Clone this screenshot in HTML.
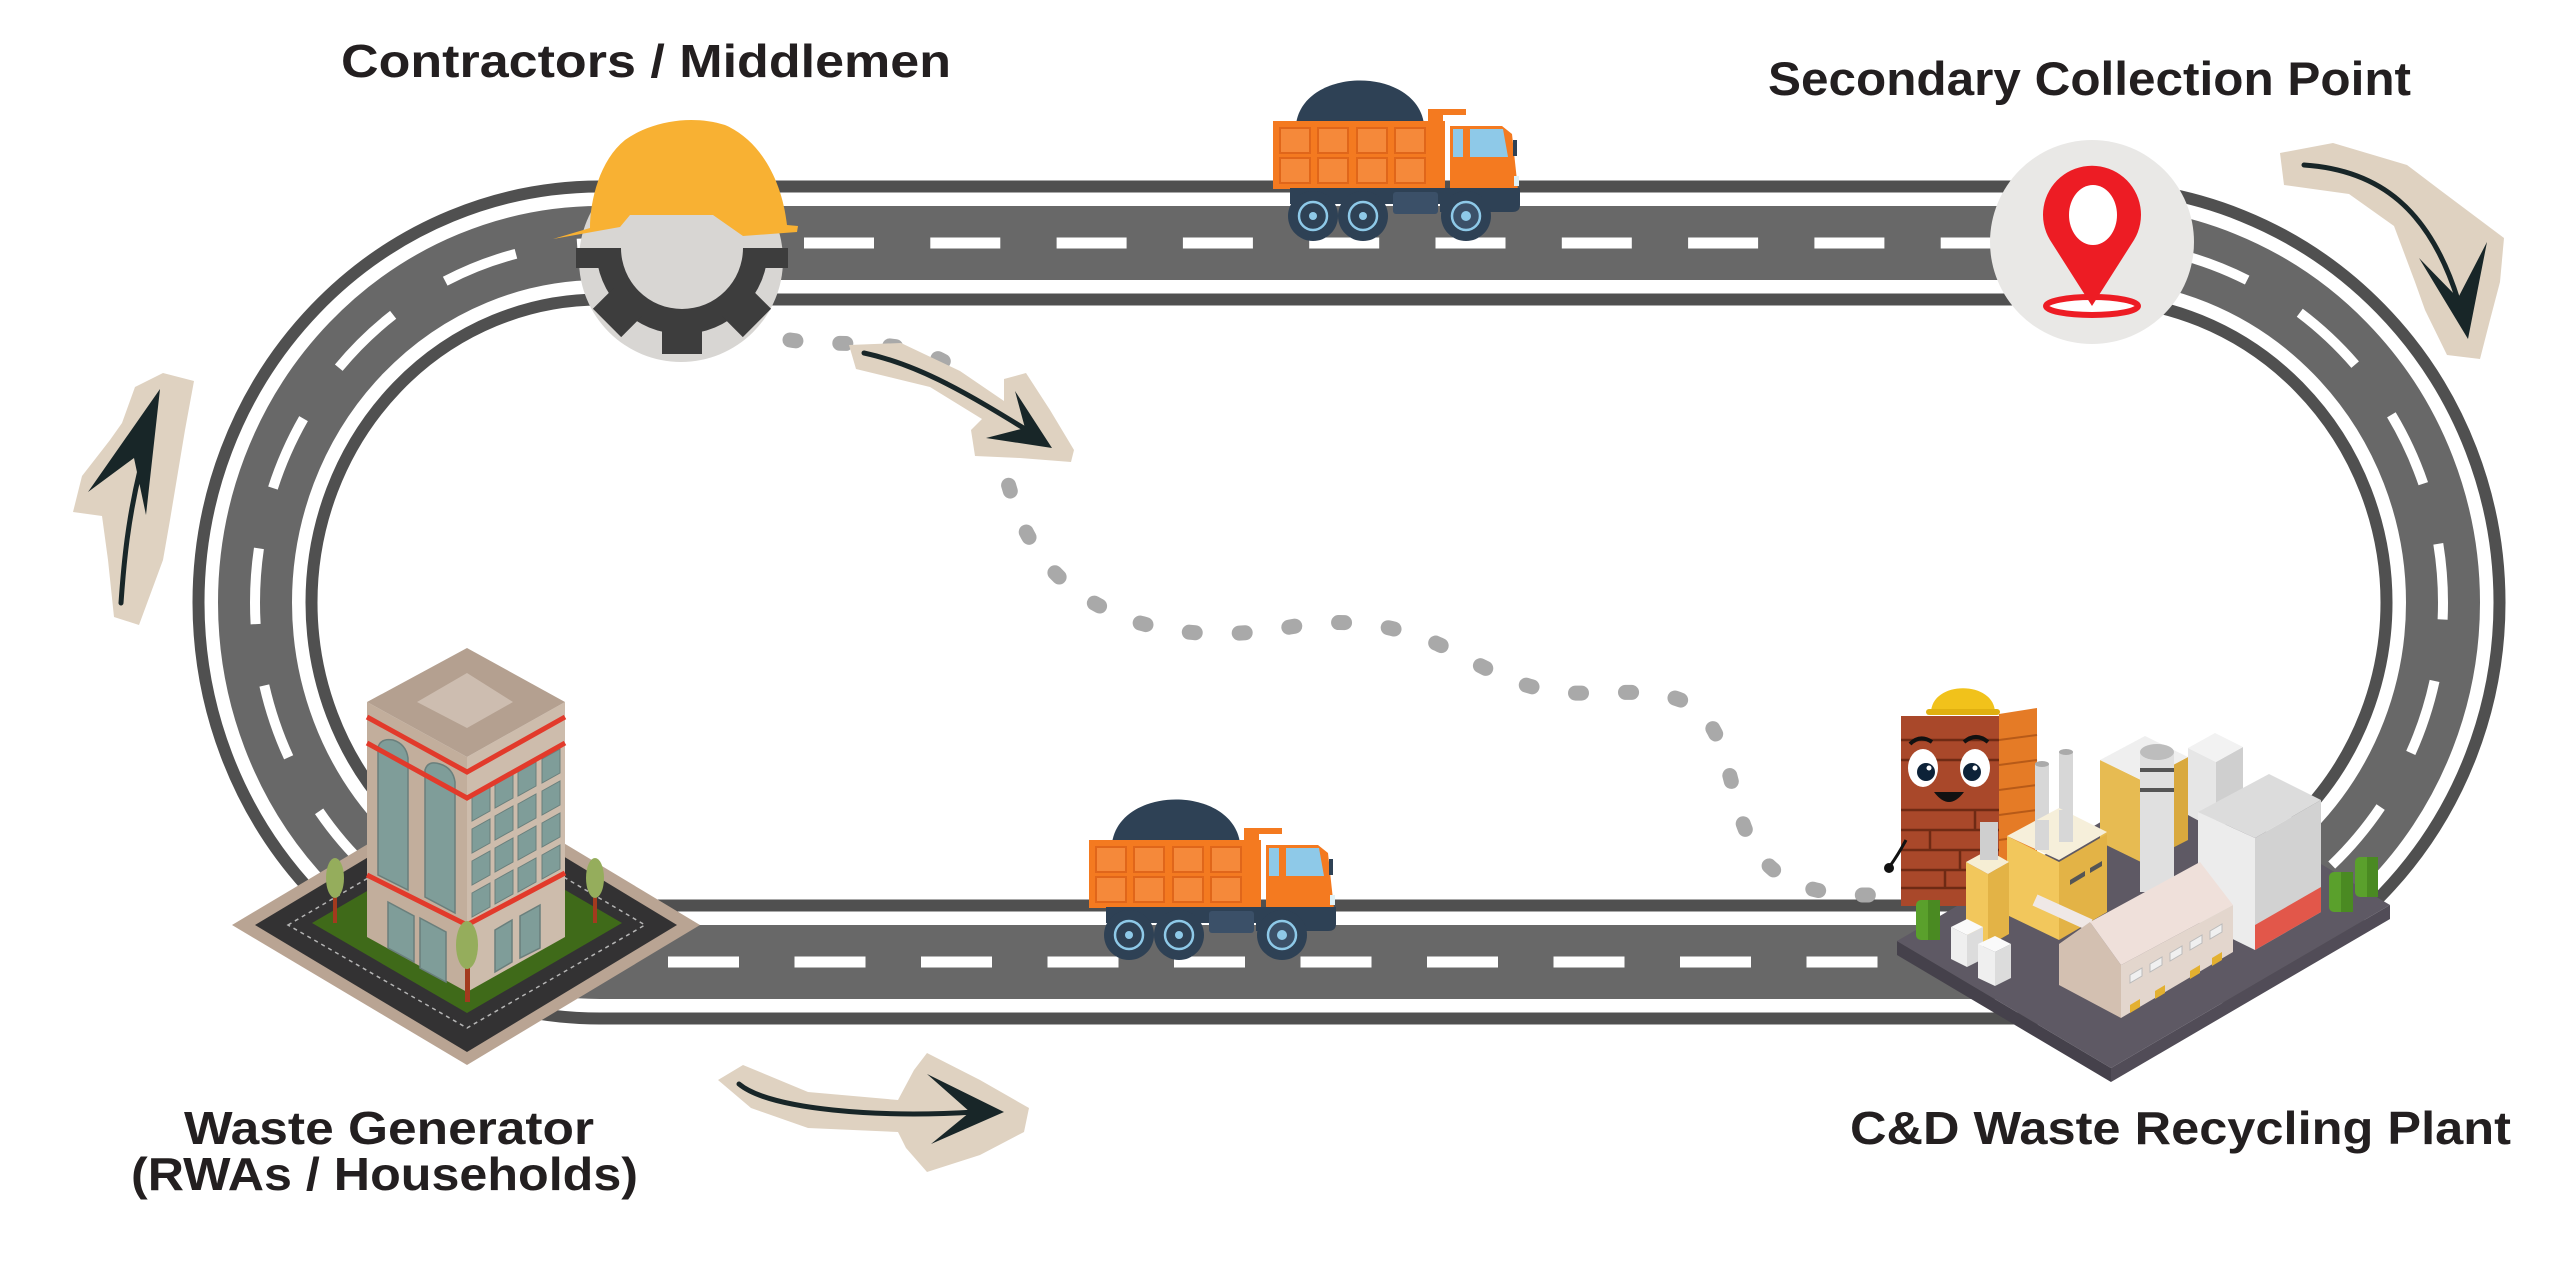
<!DOCTYPE html>
<html><head><meta charset="utf-8"><style>
html,body{margin:0;padding:0;background:#fff;}
svg{display:block;}
text{font-family:"Liberation Sans",Arial,sans-serif;font-weight:700;fill:#231f20;}
</style></head><body>
<svg width="2560" height="1264" viewBox="0 0 2560 1264" xmlns="http://www.w3.org/2000/svg">
<rect width="2560" height="1264" fill="#fff"/>

<!-- ROAD -->
<path d="M600,243 L2092,243 A351,359.5 0 0 1 2092,962 L600,962 A345,359.5 0 0 1 600,243 Z" fill="none" stroke="#505050" stroke-width="125"/>
<path d="M600,243 L2092,243 A351,359.5 0 0 1 2092,962 L600,962 A345,359.5 0 0 1 600,243 Z" fill="none" stroke="#ffffff" stroke-width="101"/>
<path d="M600,243 L2092,243 A351,359.5 0 0 1 2092,962 L600,962 A345,359.5 0 0 1 600,243 Z" fill="none" stroke="#686868" stroke-width="74"/>
<line x1="804" y1="243" x2="2010" y2="243" stroke="#fff" stroke-width="11" stroke-dasharray="70 56.3"/>
<line x1="668" y1="962" x2="1900" y2="962" stroke="#fff" stroke-width="11" stroke-dasharray="71 55.5"/>
<path d="M600,243 A345,359.5 0 0 0 600,962" fill="none" stroke="#fff" stroke-width="10" stroke-dasharray="76 62" stroke-dashoffset="53"/>
<path d="M2092,243 A351,359.5 0 0 1 2092,962" fill="none" stroke="#fff" stroke-width="10" stroke-dasharray="76 62" stroke-dashoffset="53"/>

<!-- DOTTED ROUTE -->
<path d="M790,340 C840,348 900,335 950,365 C985,390 995,440 1010,490 C1030,560 1070,600 1140,623 C1190,637 1240,636 1290,627 C1340,618 1390,622 1440,645 C1490,670 1520,690 1570,693 C1620,694 1670,685 1700,712 C1730,740 1730,800 1750,840 C1770,880 1810,896 1870,895" fill="none" stroke="#a9a9a9" stroke-width="15" stroke-linecap="round" stroke-dasharray="6 44"/>

<!-- TRUCK -->
<g id="truck">
 <path d="M1296,124 C1304,66 1416,66 1424,124 Z" fill="#2e4155"/>
 <rect x="1273" y="121" width="172" height="68" fill="#f47a20"/>
 <g fill="#f5893a" stroke="#e0661a" stroke-width="2">
  <rect x="1280" y="128" width="30" height="25"/><rect x="1318" y="128" width="30" height="25"/>
  <rect x="1357" y="128" width="30" height="25"/><rect x="1395" y="128" width="30" height="25"/>
  <rect x="1280" y="158" width="30" height="25"/><rect x="1318" y="158" width="30" height="25"/>
  <rect x="1357" y="158" width="30" height="25"/><rect x="1395" y="158" width="30" height="25"/>
 </g>
 <path d="M1428,109 H1466 V115 H1443 V189 H1428 Z" fill="#f47a20"/>
 <path d="M1450,126 H1502 L1512,134 L1518,190 H1450 Z" fill="#f47a20"/>
 <rect x="1453" y="129" width="10" height="28" fill="#8ec9e8"/>
 <path d="M1470,129 H1503 L1508,157 H1470 Z" fill="#8ec9e8"/>
 <rect x="1513" y="140" width="4" height="16" fill="#2e4155"/>
 <rect x="1290" y="188" width="230" height="16" fill="#2e4155"/>
 <rect x="1393" y="192" width="45" height="22" rx="3" fill="#3b5068"/>
 <path d="M1440,190 H1520 V205 Q1520,212 1512,212 H1440 Z" fill="#2e4155"/>
 <rect x="1514" y="176" width="5" height="10" fill="#dff1f7"/>
 <g>
  <circle cx="1313" cy="216" r="25" fill="#2e4155"/><circle cx="1313" cy="216" r="14" fill="none" stroke="#8ec9e8" stroke-width="2.5"/><circle cx="1313" cy="216" r="4" fill="#8ec9e8"/>
  <circle cx="1363" cy="216" r="25" fill="#2e4155"/><circle cx="1363" cy="216" r="14" fill="none" stroke="#8ec9e8" stroke-width="2.5"/><circle cx="1363" cy="216" r="4" fill="#8ec9e8"/>
  <circle cx="1466" cy="216" r="25" fill="#2e4155"/><circle cx="1466" cy="216" r="14" fill="#3b5068" stroke="#8ec9e8" stroke-width="2.5"/><circle cx="1466" cy="216" r="5" fill="#8ec9e8"/>
 </g>
</g>
<use href="#truck" transform="translate(-184,719)"/>

<!-- CONTRACTOR ICON -->
<circle cx="681" cy="260" r="102" fill="#d8d6d3"/>
<g transform="translate(682,248)" fill="#3d3d3d">
 <path d="M-86,0 A86,86 0 0 0 86,0 L61,0 A61,61 0 0 1 -61,0 Z"/>
 <rect x="-20" y="76" width="40" height="30"/>
 <rect x="-20" y="76" width="40" height="30" transform="rotate(45)"/>
 <rect x="-20" y="76" width="40" height="30" transform="rotate(-45)"/>
 <rect x="-106" y="0" width="30" height="20"/>
 <rect x="76" y="0" width="30" height="20"/>
</g>
<path d="M553,239 L590,228 C590,200 600,160 625,140 C650,122 690,114 725,125 C760,140 782,180 787,225 L798,226 L797,232 L743,236 L713,215 L630,215 L620,227 Z" fill="#f8b133"/>

<!-- PIN ICON -->
<circle cx="2092" cy="242" r="102" fill="#e9e8e6"/>
<ellipse cx="2092" cy="306" rx="46" ry="9" fill="#fff" stroke="#ed1c24" stroke-width="6"/>
<path d="M2092,306 L2050,240 A49,49 0 1 1 2134,240 Z" fill="#ed1c24"/>
<ellipse cx="2093" cy="215" rx="24" ry="30" fill="#fff"/>

<!-- WASTE GENERATOR BUILDING -->
<polygon points="232,925 467,785 700,925 467,1065" fill="#b9a493"/>
<polygon points="255,925 467,798 677,925 467,1052" fill="#333233"/>
<polygon points="288,925 467,820 645,925 467,1028" fill="none" stroke="#b5b5b5" stroke-width="1.5" stroke-dasharray="4 4"/>
<polygon points="312,923 467,833 622,923 467,1013" fill="#3f6a19"/>
<polygon points="367,702 467,757 467,992 367,937" fill="#c2ae9c"/>
<polygon points="467,757 565,702 565,937 467,992" fill="#cdbcac"/>
<polygon points="467,648 565,702 467,757 367,702" fill="#b4a090"/>
<polygon points="467,673 513,702 467,728 417,702" fill="#cdbdb0"/>
<g fill="#7f9d99" stroke="#6a7f7c" stroke-width="1.5">
 <path d="M378,748 Q380,738 393,740 Q406,744 408,758 L408,890 L378,875 Z"/>
 <path d="M425,770 Q428,760 440,764 Q453,768 455,782 L455,913 L425,897 Z"/>
 <polygon points="388,902 414,916 414,962 388,948"/>
 <polygon points="420,918 446,932 446,982 420,968"/>
 <polygon points="495,930 512,920 512,962 495,972"/>
 <polygon points="520,916 540,905 540,948 520,958"/>
</g>
<defs><polygon id="win" points="0,0 18,-10 18,14 0,24" fill="#7f9d99" stroke="#6a7f7c" stroke-width="1"/></defs>
<g>
 <use href="#win" x="472" y="797"/><use href="#win" x="472" y="829"/><use href="#win" x="472" y="861"/><use href="#win" x="472" y="893"/>
 <use href="#win" x="495" y="784"/><use href="#win" x="495" y="816"/><use href="#win" x="495" y="848"/><use href="#win" x="495" y="880"/>
 <use href="#win" x="518" y="772"/><use href="#win" x="518" y="804"/><use href="#win" x="518" y="836"/><use href="#win" x="518" y="868"/>
 <use href="#win" x="542" y="759"/><use href="#win" x="542" y="791"/><use href="#win" x="542" y="823"/><use href="#win" x="542" y="855"/>
</g>
<g fill="none" stroke="#e23a2b" stroke-width="5">
 <polyline points="367,717 467,772 565,717"/>
 <polyline points="367,743 467,798 565,743"/>
 <polyline points="367,875 467,925 565,873"/>
</g>
<g>
 <rect x="333" y="895" width="4" height="28" fill="#a33a1e"/><ellipse cx="335" cy="878" rx="9" ry="20" fill="#95ad5c"/>
 <rect x="593" y="895" width="4" height="28" fill="#a33a1e"/><ellipse cx="595" cy="878" rx="9" ry="20" fill="#95ad5c"/>
 <rect x="465" y="960" width="5" height="42" fill="#a33a1e"/><ellipse cx="467" cy="945" rx="11" ry="24" fill="#95ad5c"/>
</g>

<!-- RECYCLING PLANT -->
<polygon points="1897,941 2111,1068 2111,1082 1897,955" fill="#45414b"/>
<polygon points="2111,1068 2390,905 2390,919 2111,1082" fill="#514c57"/>
<polygon points="1897,941 2176,778 2390,905 2111,1068" fill="#5e5964"/>
<!-- brick character -->
<g>
 <polygon points="1999,714 2037,708 2037,870 1999,880" fill="#e57b26"/>
 <rect x="1901" y="716" width="98" height="190" fill="#a9482a"/>
 <g stroke="#6e2a14" stroke-width="2.5">
  <line x1="1901" y1="740" x2="1999" y2="740"/><line x1="1901" y1="760" x2="1999" y2="760"/>
  <line x1="1901" y1="810" x2="1999" y2="810"/><line x1="1901" y1="830" x2="1999" y2="830"/>
  <line x1="1901" y1="850" x2="1999" y2="850"/><line x1="1901" y1="870" x2="1999" y2="870"/>
  <line x1="1901" y1="888" x2="1999" y2="888"/>
  <line x1="1930" y1="830" x2="1930" y2="850"/><line x1="1960" y1="850" x2="1960" y2="870"/>
  <line x1="1945" y1="870" x2="1945" y2="888"/><line x1="1975" y1="810" x2="1975" y2="830"/>
 </g>
 <g stroke="#b75a18" stroke-width="2">
  <line x1="1999" y1="740" x2="2037" y2="735"/><line x1="1999" y1="765" x2="2037" y2="760"/>
  <line x1="1999" y1="790" x2="2037" y2="785"/><line x1="1999" y1="815" x2="2037" y2="810"/>
  <line x1="1999" y1="840" x2="2037" y2="835"/>
 </g>
 <ellipse cx="1923" cy="768" rx="15" ry="19" fill="#fff"/><ellipse cx="1975" cy="768" rx="15" ry="19" fill="#fff"/>
 <circle cx="1926" cy="772" r="9" fill="#0d2238"/><circle cx="1972" cy="772" r="9" fill="#0d2238"/>
 <circle cx="1929" cy="768" r="2.5" fill="#fff"/><circle cx="1975" cy="768" r="2.5" fill="#fff"/>
 <path d="M1910,744 Q1920,734 1932,742" fill="none" stroke="#111" stroke-width="4"/>
 <path d="M1964,742 Q1976,732 1988,742" fill="none" stroke="#111" stroke-width="4"/>
 <path d="M1934,792 Q1949,812 1964,792 Z" fill="#111"/>
 <path d="M1906,840 Q1898,855 1890,866" fill="none" stroke="#111" stroke-width="3"/>
 <circle cx="1889" cy="868" r="5" fill="#111"/>
 <path d="M1931,713 C1931,680 1995,680 1995,713 Z" fill="#f1c21b"/>
 <rect x="1926" y="709" width="74" height="6" rx="3" fill="#e0b010"/>
</g>
<!-- back yellow tall building -->
<polygon points="2100,760 2143,781 2143,863 2100,842" fill="#e7bb52"/>
<polygon points="2143,781 2188,757 2188,840 2143,863" fill="#d9a93e"/>
<polygon points="2100,760 2145,736 2188,757 2143,781" fill="#efefef"/>
<!-- white building behind -->
<polygon points="2188,748 2216,762 2216,830 2188,815" fill="#e6e6e6"/>
<polygon points="2216,762 2243,747 2243,815 2216,830" fill="#cfcfcf"/>
<polygon points="2188,748 2215,733 2243,747 2216,762" fill="#f2f2f2"/>
<!-- cylinder -->
<rect x="2140" y="752" width="34" height="140" fill="#e0e0e0"/>
<ellipse cx="2157" cy="752" rx="17" ry="8" fill="#bdbdbd"/>
<rect x="2140" y="768" width="34" height="4" fill="#555"/><rect x="2140" y="788" width="34" height="4" fill="#555"/>
<!-- tall white building right -->
<polygon points="2198,812 2255,838 2255,950 2198,922" fill="#ececec"/>
<polygon points="2255,838 2321,800 2321,912 2255,950" fill="#d2d2d2"/>
<polygon points="2255,925 2321,887 2321,912 2255,950" fill="#e2574a"/>
<polygon points="2198,812 2269,774 2321,800 2255,838" fill="#dcdcdc"/>
<!-- yellow factory -->
<rect x="2035" y="764" width="14" height="82" fill="#d7d7d7"/><ellipse cx="2042" cy="764" rx="7" ry="3" fill="#aaa"/>
<rect x="2059" y="752" width="14" height="80" fill="#d7d7d7"/><ellipse cx="2066" cy="752" rx="7" ry="3" fill="#aaa"/>
<polygon points="2007,836 2059,862 2059,940 2007,915" fill="#f2c75c"/>
<polygon points="2059,862 2107,834 2107,912 2059,940" fill="#e3b346"/>
<polygon points="2007,836 2059,808 2107,832 2059,860" fill="#f6efda"/>
<rect x="2035" y="820" width="14" height="30" fill="#d7d7d7"/><rect x="2059" y="810" width="14" height="32" fill="#d7d7d7"/>
<g fill="#555"><polygon points="2070,880 2085,871 2085,876 2070,885"/><polygon points="2090,868 2102,861 2102,866 2090,873"/></g>
<polygon points="1966,862 1988,874 1988,946 1966,934" fill="#f2c75c"/>
<polygon points="1988,874 2009,862 2009,934 1988,946" fill="#e3b346"/>
<polygon points="1966,862 1988,850 2009,862 1988,874" fill="#f6eed4"/>
<rect x="1980" y="822" width="18" height="38" fill="#cfcfcf"/>
<line x1="2035" y1="900" x2="2090" y2="925" stroke="#efe8e6" stroke-width="12"/>
<!-- tanks -->
<polygon points="1951,927 1967,935 1967,967 1951,959" fill="#efefef"/>
<polygon points="1967,935 1983,927 1983,959 1967,967" fill="#dcdcdc"/>
<polygon points="1951,927 1967,919 1983,927 1967,935" fill="#fafafa"/>
<polygon points="1978,944 1995,952 1995,986 1978,978" fill="#efefef"/>
<polygon points="1995,952 2011,944 2011,978 1995,986" fill="#dcdcdc"/>
<polygon points="1978,944 1995,936 2011,944 1995,952" fill="#fafafa"/>
<!-- warehouse -->
<polygon points="2121,965 2233,905 2233,952 2121,1018" fill="#e3d6cd"/>
<polygon points="2059,944 2090,922 2121,965 2121,1018 2059,985" fill="#d3c0b1"/>
<polygon points="2090,922 2200,862 2233,905 2121,965" fill="#efe0da"/>
<g fill="#f0f0f0" stroke="#bbb" stroke-width="1">
 <polygon points="2130,975 2142,968 2142,976 2130,983"/><polygon points="2150,964 2162,957 2162,965 2150,972"/>
 <polygon points="2170,953 2182,946 2182,954 2170,961"/><polygon points="2190,942 2202,935 2202,943 2190,950"/>
 <polygon points="2210,931 2222,924 2222,932 2210,939"/>
</g>
<g fill="#e3b030"><polygon points="2130,1005 2140,999 2140,1007 2130,1013"/><polygon points="2155,991 2165,985 2165,993 2155,999"/><polygon points="2190,971 2200,965 2200,973 2190,979"/><polygon points="2212,958 2222,952 2222,960 2212,966"/></g>
<!-- trees -->
<rect x="1916" y="900" width="24" height="40" rx="5" fill="#5aa02c"/><rect x="1928" y="900" width="12" height="40" fill="#4a8a22"/>
<rect x="2329" y="872" width="24" height="40" rx="5" fill="#5aa02c"/><rect x="2341" y="872" width="12" height="40" fill="#4a8a22"/>
<rect x="2355" y="857" width="23" height="40" rx="5" fill="#5aa02c"/><rect x="2367" y="857" width="11" height="40" fill="#4a8a22"/>

<!-- ARROWS -->
<g>
 <polygon points="163,373 194,381 185,430 176,484 170,520 163,560 139,625 114,617 108,560 102,516 73,512 82,476 110,440 122,423 135,387" fill="#dfd2c1"/>
 <path d="M121,603 C124,560 128,520 140,470" fill="none" stroke="#182628" stroke-width="5" stroke-linecap="round"/>
 <polygon points="160,389 88,492 134,458 146,515" fill="#182628"/>
</g>
<g>
 <polygon points="2280,153 2333,143 2407,165 2440,190 2472,214 2504,238 2500,282 2490,320 2480,359 2447,355 2425,310 2415,282 2394,226 2349,194 2284,185" fill="#dfd2c1"/>
 <path d="M2304,165 C2380,170 2430,210 2458,300" fill="none" stroke="#182628" stroke-width="5" stroke-linecap="round"/>
 <polygon points="2468,339 2419,258 2458,298 2487,242" fill="#182628"/>
</g>
<g>
 <polygon points="849,345 901,343 960,371 1004,401 1004,379 1026,373 1050,410 1074,450 1071,462 1020,458 975,456 971,430 982,419 930,387 856,369" fill="#dfd2c1"/>
 <path d="M864,353 C920,365 970,395 1030,432" fill="none" stroke="#182628" stroke-width="5" stroke-linecap="round"/>
 <polygon points="1052,448 1015,391 1025,428 986,438" fill="#182628"/>
</g>
<g>
 <polygon points="718,1080 743,1065 808,1092 898,1100 914,1070 927,1053 980,1080 1029,1108 1024,1132 980,1155 927,1172 906,1148 898,1132 808,1128 751,1108" fill="#dfd2c1"/>
 <path d="M739,1084 C770,1110 880,1118 975,1112" fill="none" stroke="#182628" stroke-width="5" stroke-linecap="round"/>
 <polygon points="1004,1112 927,1074 970,1112 931,1144" fill="#182628"/>
</g>

<!-- LABELS -->
<text x="341" y="77" font-size="46" textLength="610" lengthAdjust="spacingAndGlyphs">Contractors / Middlemen</text>
<text x="1768" y="95" font-size="47" textLength="643" lengthAdjust="spacingAndGlyphs">Secondary Collection Point</text>
<text x="184" y="1144" font-size="46" textLength="410" lengthAdjust="spacingAndGlyphs">Waste Generator</text>
<text x="131" y="1190" font-size="46" textLength="507" lengthAdjust="spacingAndGlyphs">(RWAs / Households)</text>
<text x="1850" y="1144" font-size="46" textLength="661" lengthAdjust="spacingAndGlyphs">C&amp;D Waste Recycling Plant</text>
</svg>
</body></html>
